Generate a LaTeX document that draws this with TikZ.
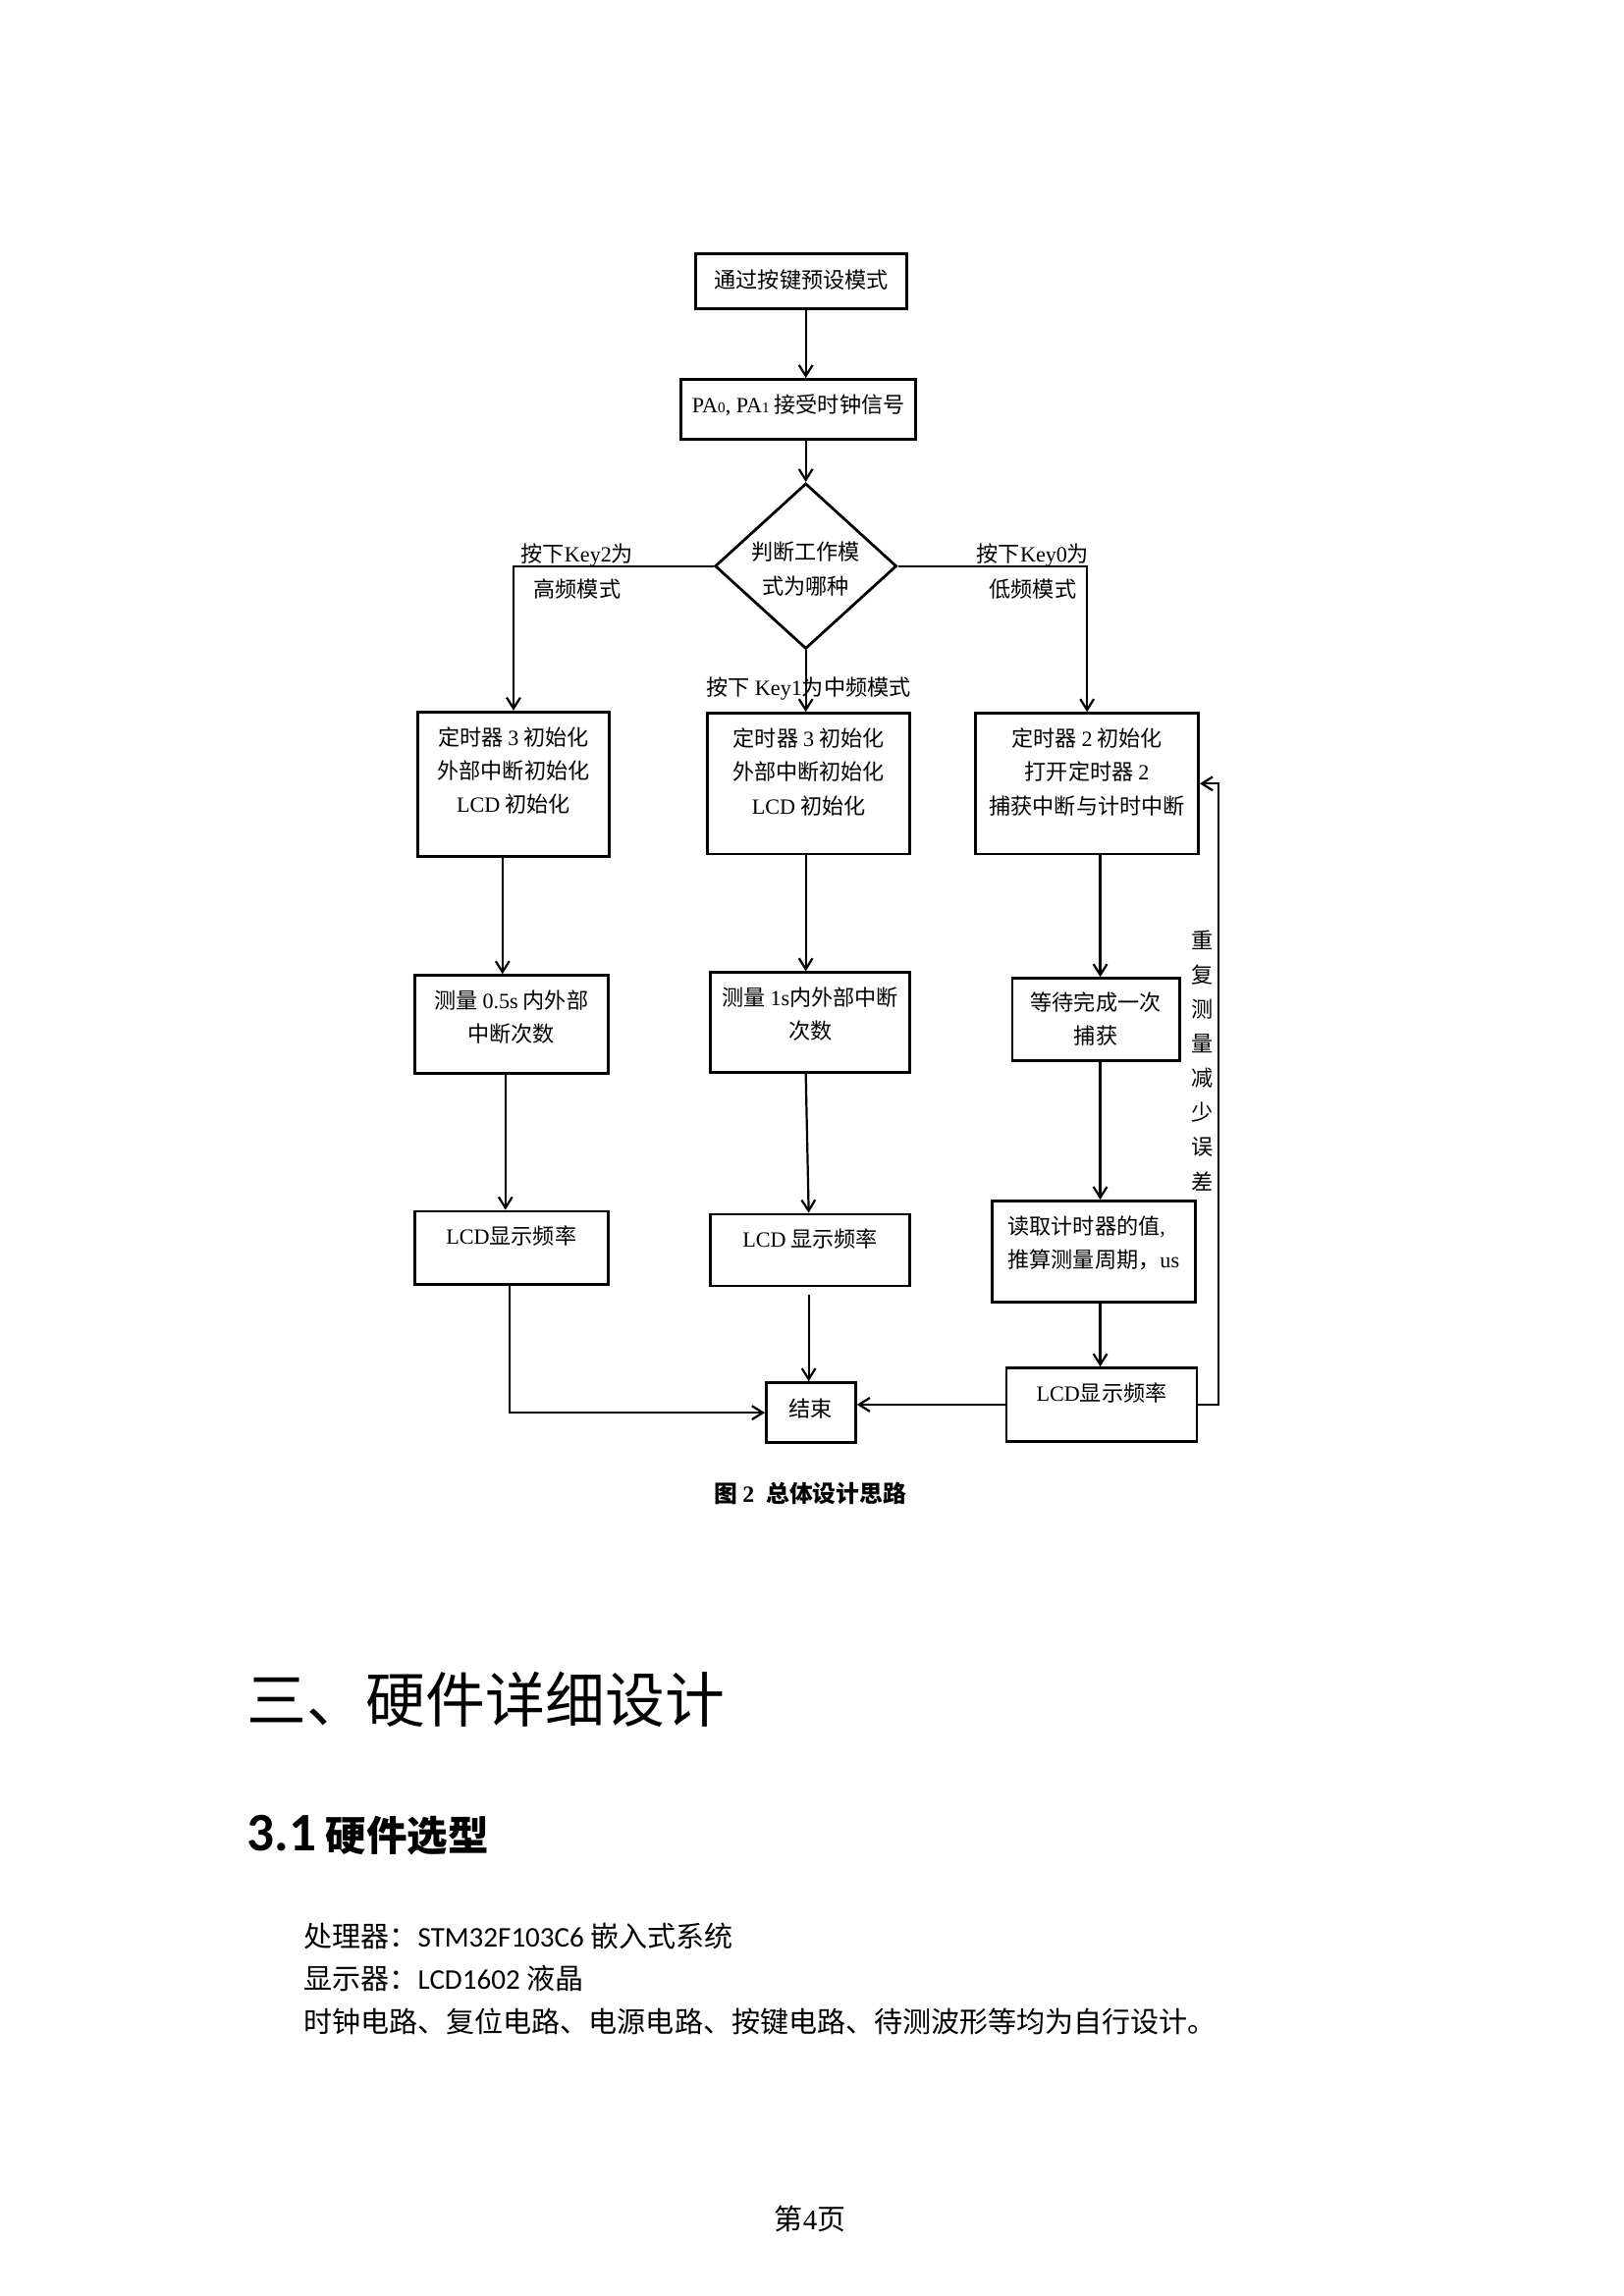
\documentclass[tikz,border=0pt]{standalone}
\usepackage{fontspec}
\setmainfont{Noto Sans CJK SC}
\newfontfamily\latf{Liberation Serif}
\newfontfamily\calf{Carlito}
\usetikzlibrary{shapes.geometric,arrows.meta,calc}
\newcommand\uu{0.5394pt}
\newcommand\subd[1]{{\fontsize{5.5}{6}\selectfont #1}}
\begin{document}
\begin{tikzpicture}[x=0.5394pt,y=-0.5394pt,
  bx/.style 2 args={draw, line width=1pt, minimum width=#1*\uu, minimum height=#2*\uu, inner sep=0pt},
  lb/.style={font=\fontsize{8}{12.4}\selectfont, align=center, inner sep=0pt},
  arr/.style={line width=0.8pt, -{Straight Barb[length=4pt,width=5pt]}}]
\useasboundingbox (0,0) rectangle (1108.5,1567.6);

% boxes
\node[bx={144}{38}, label={[lb,yshift=1*\uu]center:通过按键预设模式}] (B1) at (547,192) {};
\node[bx={160}{41}, label={[lb,yshift=3*\uu]center:{{\latf PA\subd{0}, PA\subd{1}} 接受时钟信号}}] (B2) at (545,279.5) {};
\node[diamond, draw, line width=1pt, minimum width=124*\uu, minimum height=113*\uu, inner sep=0pt,
      label={[lb,yshift=-2*\uu]center:{判断工作模\\式为哪种}}] (D) at (550,386.5) {};

\node[bx={131}{99}, label={[lb,yshift=9.5*\uu]center:{定时器 {\latf 3} 初始化\\外部中断初始化\\{\latf LCD} 初始化}}] (L1) at (350.5,535.5) {};
\node[bx={138}{96}, label={[lb,yshift=8*\uu]center:{定时器 {\latf 3} 初始化\\外部中断初始化\\{\latf LCD} 初始化}}] (M1) at (552,535) {};
\node[bx={152}{96}, label={[lb,yshift=8*\uu]center:{定时器 {\latf 2} 初始化\\打开定时器 {\latf 2}\\捕获中断与计时中断}}] (R1) at (742,535) {};

\node[bx={132}{67}, label={[lb,yshift=5*\uu]center:{测量 {\latf 0.5s} 内外部\\中断次数}}] (L2) at (349,699.5) {};
\node[bx={136}{68}, label={[lb,yshift=5.5*\uu]center:{测量 {\latf 1s}内外部中断\\次数}}] (M2) at (553,698) {};
\node[bx={114}{56}, label={[lb,yshift=0.5*\uu]center:{等待完成一次\\捕获}}] (R2) at (748,696) {};

\node[bx={132}{50}, label={[lb,yshift=8*\uu]center:{{\latf LCD}显示频率}}] (L3) at (349,852) {};
\node[bx={136}{49}, label={[lb,yshift=7.5*\uu]center:{{\latf LCD} 显示频率}}] (M3) at (553,853.5) {};
\node[bx={139}{69}, label={[lb,align=left,yshift=6*\uu]center:{读取计时器的值{\latf ,}\\推算测量周期，{\latf us}}}] (R3) at (746.5,854.5) {};
\node[bx={130}{50}, label={[lb,yshift=8*\uu]center:{{\latf LCD}显示频率}}] (R4) at (752,959) {};
\node[bx={61}{41}, label={[lb,yshift=2.5*\uu]center:结束}] (E) at (553.5,964.5) {};

% edge labels
\node[lb, font=\fontsize{8}{12.9}\selectfont] (k2) at (394,390) {按下{\latf Key2}为\\高频模式};
\node[lb, font=\fontsize{8}{12.9}\selectfont] (k0) at (705,390) {按下{\latf Key0}为\\低频模式};
\node[lb] (k1) at (552,470) {按下 {\latf Key1}为中频模式};
\node[lb, font=\fontsize{8}{12.7}\selectfont] (rep) at (821,724) {重\\复\\测\\量\\减\\少\\误\\差};

% connectors
\draw[arr] (B1.south -| D.north) -- (B2.north -| D.north);
\draw[arr] (B2.south -| D.north) -- (D.north);
\draw[arr] (D.west) -| (L1.north);
\draw[arr] (D.east) -| (R1.north);
\draw[arr] (D.south) -- (D.south |- M1.north);
\draw[arr] ($(L1.south)+(-7.5,0)$) -- ($(L2.north)+(-6,0)$);
\draw[arr] ($(L2.south)+(-4,0)$) -- ($(L3.north)+(-4,0)$);
\draw[arr] ($(L3.south)+(-1,0)$) |- (E.west);
\draw[arr] ($(M1.south)+(-2,0)$) -- ($(M2.north)+(-3,0)$);
\draw[arr] ($(M2.south)+(-3,0)$) -- ($(M3.north)+(-1,0)$);
\draw[arr] ($(M3.south)+(-1,5)$) -- ($(E.north)+(-1.5,0)$);
\draw[arr] ($(R1.south)+(9,0)$) -- ($(R2.north)+(3,0)$);
\draw[arr] ($(R2.south)+(3,0)$) -- ($(R3.north)+(4.5,0)$);
\draw[arr] ($(R3.south)+(4.5,0)$) -- ($(R4.north)+(-1,0)$);
\draw[arr] (R4.west) -- (R4.west -| E.east);
\draw[arr] (R4.east) -- ++(14,0) |- (R1.east);

% caption and page text
\node[inner sep=0pt, font=\bfseries\fontsize{8.6}{10}\selectfont] (cap) at (553,1020) {图 {\latf\bfseries 2}\enspace 总体设计思路};
\node[anchor=west, inner sep=0pt, font=\fontsize{22}{26}\selectfont] (h1) at (168,1160) {三、硬件详细设计};
\node[anchor=west, inner sep=0pt, font=\bfseries\fontsize{15}{18}\selectfont] (h2) at (168,1253) {{\calf\bfseries\fontsize{20}{20}\selectfont 3.1} 硬件选型};
\node[anchor=west, inner sep=0pt, font=\fontsize{10.5}{13}\selectfont] (p1) at (207,1322) {处理器：{\calf STM32F103C6} 嵌入式系统};
\node[anchor=west, inner sep=0pt, font=\fontsize{10.5}{13}\selectfont] (p2) at (207,1351) {显示器：{\calf LCD1602} 液晶};
\node[anchor=west, inner sep=0pt, font=\fontsize{10.5}{13}\selectfont] (p3) at (207,1380) {时钟电路、复位电路、电源电路、按键电路、待测波形等均为自行设计。};
\node[inner sep=0pt, font=\fontsize{10.5}{13}\selectfont] (pg) at (553,1515) {第{\latf 4}页};
\end{tikzpicture}
\end{document}
